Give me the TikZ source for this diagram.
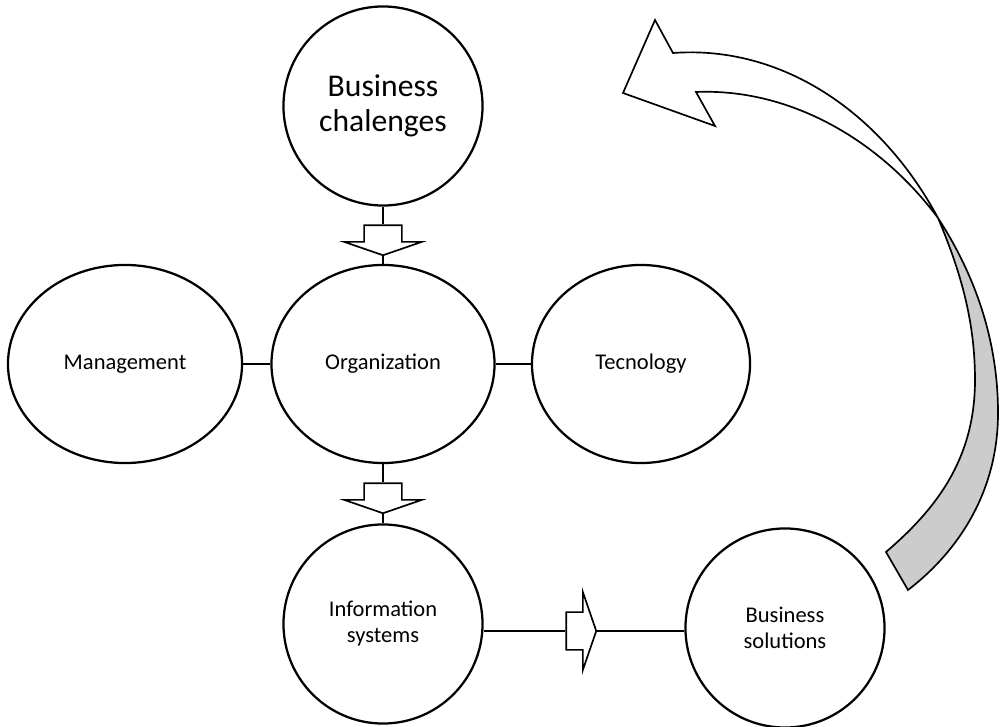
\documentclass[tikz,border=0pt]{standalone}
\usepackage{fontspec}
\setmainfont{Carlito}
\usetikzlibrary{shapes.geometric,shapes.arrows}

\begin{document}
\begin{tikzpicture}[x=0.025cm,y=-0.025cm,
	bubble/.style={draw,line width=1.6pt,inner sep=0pt,align=center,font=\fontsize{16}{18.5}\selectfont},
	ring/.style={bubble,circle,minimum size=4.975cm},
	oval/.style={bubble,ellipse,minimum height=4.95cm},
	blockarrow/.style={single arrow,draw,line width=1.2pt,fill=white,inner xsep=0pt,inner ysep=0.45cm,minimum height=0.75cm,single arrow head extend=0.5cm,single arrow tip angle=142},
	link/.style={draw,line width=1.4pt},
	thinlink/.style={draw,line width=0.8pt}]
	\useasboundingbox (0,0) rectangle (1001,727);
	\node[ring,font=\fontsize{22.5}{25}\selectfont] (chal) at (383,106) {Business\\chalenges};
	\node[oval,minimum width=5.85cm] (mgmt) at (125,364) {Management};
	\node[oval,minimum width=5.575cm] (org) at (383,364) {Organization};
	\node[oval,minimum width=5.45cm] (tech) at (641,364) {Tecnology};
	\node[ring] (is) at (383,624) {Information\\systems};
	\node[ring] (sol) at (785,628) {Business\\solutions};
	\node[blockarrow,rotate=-90] (a1) at (383,237) {};
	\node[blockarrow,rotate=-90] (a2) at (383,495) {};
	\node[blockarrow] (a3) at (578,631) {};

	\draw[link] (chal.south) -- (a1.tail);
	\draw[link] (a1.tip) -- (org.north);
	\draw[link] (org.south) -- (a2.tail);
	\draw[link] (a2.tip) -- (is.north);
	\draw[link] (mgmt) -- (org);
	\draw[link] (org) -- (tech);
	\draw[thinlink] (a3.tail) -- (a3.tail -| is.east);
	\draw[thinlink] (a3.tip) -- (a3.tip -| sol.west);

	% curved return arrow, twisted ribbon
	\draw[line width=1.2pt,fill=black!20] (938,218) .. controls (975,275) and (998,340) .. (998,413)
		.. controls (998,490) and (960,550) .. (908,590) -- (886,552)
		.. controls (935,510) and (975,460) .. (975,380)
		.. controls (975,320) and (960,270) .. (938,218) -- cycle;
	\draw[line width=1.2pt,fill=white] (673,53) .. controls (780,45) and (880,110) .. (938,218)
		.. controls (880,140) and (790,88) .. (696,92)
		-- (715,126) -- (623,93) -- (655,20) -- cycle;
\end{tikzpicture}
\end{document}
